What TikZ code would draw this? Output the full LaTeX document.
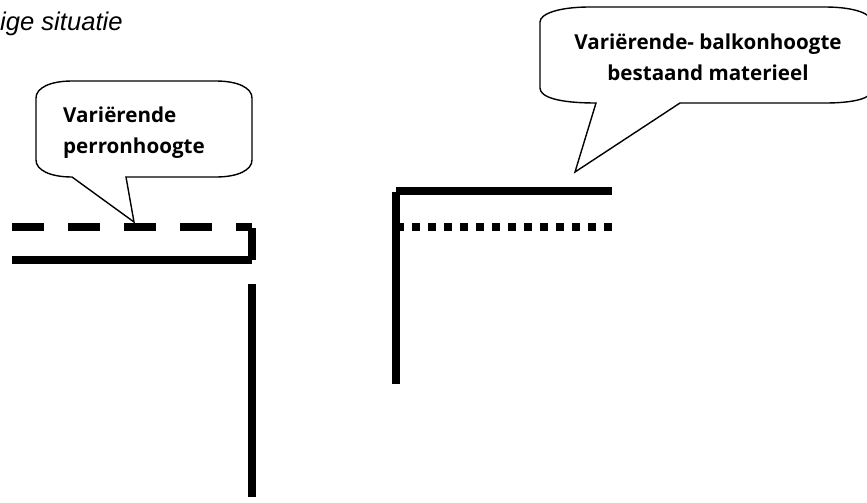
\documentclass[tikz,border=0pt]{standalone}
\usepackage{fontspec}
\setmainfont{Liberation Sans}
\newfontfamily\calloutfont{Open Sans}
\tikzset{
  heavy/.style={line width=8pt},
  balloon/.style={draw,line width=1.4pt,fill=white,line join=miter},
  balloontext/.style={font=\calloutfont\fontsize{20.6}{24}\selectfont\bfseries,inner sep=0pt},
}
\begin{document}
\begin{tikzpicture}[x=1pt,y=-1pt]
  \useasboundingbox (0,0) rectangle (867,503);
  \node[anchor=base west,inner sep=0pt,font=\itshape\fontsize{25.6}{30}\selectfont] (title) at (0,31) {ige situatie};
  % left balloon
  \draw[balloon]
    (72,177) -- (134,222) -- (126,177) -- (216,177)
    .. controls (238,177) and (252,170) .. (252,160) -- (252,98)
    .. controls (252,88) and (238,81) .. (216,81) -- (72,81)
    .. controls (50,81) and (36,88) .. (36,98) -- (36,160)
    .. controls (36,170) and (50,177) .. (72,177) -- cycle;
  \node[balloontext,anchor=base west] (perron1) at (63,122) {Variërende};
  \node[balloontext,anchor=base west] (perron2) at (63,153) {perronhoogte};
  % right balloon
  \draw[balloon]
    (596,103) -- (575,172) -- (680,103) -- (825,103)
    .. controls (855,103) and (872,98) .. (872,90) -- (872,22)
    .. controls (872,14) and (855,7) .. (825,7) -- (590,7)
    .. controls (558,7) and (540,14) .. (540,22) -- (540,88)
    .. controls (540,97) and (558,103) .. (596,103) -- cycle;
  \node[balloontext,anchor=base] (balkon1) at (708,49) {Variërende- balkonhoogte};
  \node[balloontext,anchor=base] (balkon2) at (708,81) {bestaand materieel};
  % left platform
  \draw[heavy,dash pattern=on 32pt off 24pt] (12,227) -- (252,227);
  \draw[heavy] (252,228) -- (252,260);
  \draw[heavy] (12,260) -- (252,260);
  \draw[heavy] (252,284) -- (252,497);
  % right vehicle
  \draw[heavy] (396,191) -- (612,191);
  \draw[heavy] (396,192) -- (396,384);
  \draw[heavy,dash pattern=on 8pt off 8pt] (396,227) -- (612,227);
\end{tikzpicture}
\end{document}
